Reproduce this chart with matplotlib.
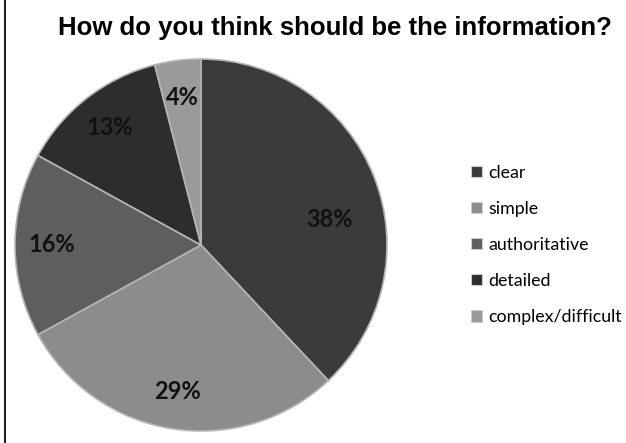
import matplotlib
matplotlib.use("Agg")
import matplotlib.pyplot as plt
from matplotlib.patches import Patch
from matplotlib.lines import Line2D

# ---------------- data ----------------
categories = ["clear", "simple", "authoritative", "detailed", "complex/difficult"]
values = [38, 29, 16, 13, 4]
colors = ["#3b3b3b", "#8c8c8c", "#5e5e5e", "#2d2d2d", "#9a9a9a"]
title = "How do you think should be the information?"

fig = plt.figure(figsize=(6.26, 4.43), dpi=100)

# square axes for the pie (pixel box ~372x372)
ax = fig.add_axes([15 / 626, 12 / 443, 372 / 626, 372 / 443])
wedges, texts, autotexts = ax.pie(
    values, colors=colors, startangle=90, counterclock=False,
    autopct="%d%%", pctdistance=0.8, radius=1.0,
    wedgeprops=dict(edgecolor="#b5b5b5", linewidth=1.2),
    textprops=dict(fontsize=17, fontweight="bold", color="#111111", family="Lato"),
)
ax.set_xlim(-1.0, 1.0)
ax.set_ylim(-1.0, 1.0)
ax.set_aspect("equal")
ax.axis("off")

# the big slice label sits a bit lower/inward in the original
autotexts[0].set_position((0.69, 0.135))

fig.text(335 / 626, 1 - 28 / 443, title, ha="center", va="center",
         fontsize=18.5, fontweight="bold", family="Liberation Sans")

handles = [Patch(facecolor=c, edgecolor="#cccccc", linewidth=0.8) for c in colors]
fig.legend(handles, categories, loc="center left",
           bbox_to_anchor=(455 / 626, 198 / 443), frameon=False,
           prop=dict(family="Lato", size=12.8), handlelength=0.6, handleheight=0.6,
           handletextpad=0.35, labelspacing=1.13)

# left border line of the original frame
fig.add_artist(Line2D([4.5 / 626, 4.5 / 626], [0, 1], transform=fig.transFigure,
                      color="#222222", linewidth=1.5))

fig.savefig("out.png", dpi=100)
